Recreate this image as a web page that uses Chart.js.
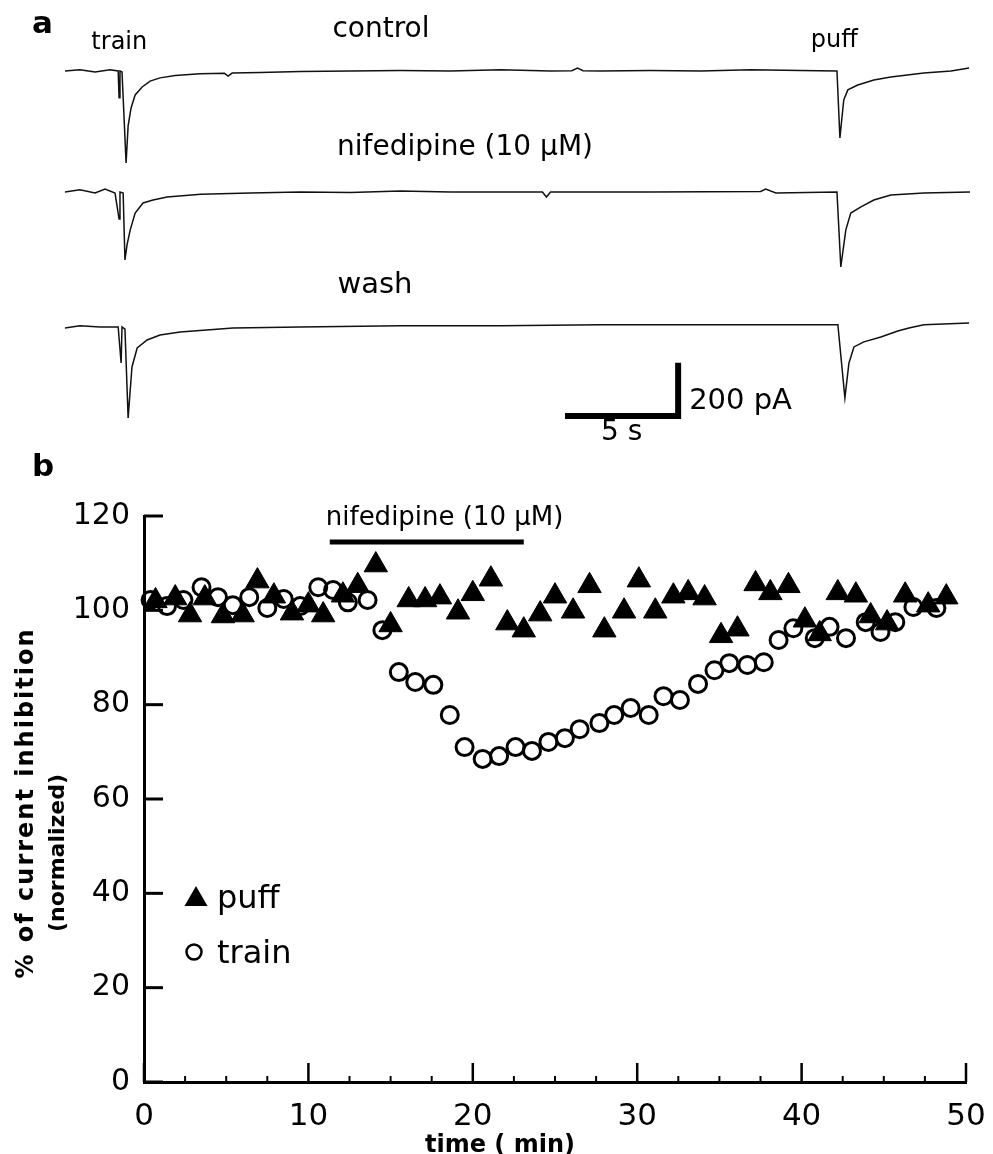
<!DOCTYPE html>
<html>
<head>
<meta charset="utf-8">
<script src="https://cdn.jsdelivr.net/npm/chart.js@4.4.1/dist/chart.umd.min.js"></script>
<style>
    html, body { margin: 0; padding: 0; background: #ffffff; }
    #wrap { position: relative; width: 993px; height: 1154px; }
    canvas { position: absolute; left: 0; }
    #tracesChart { top: 0; }
    #timeChart { top: 480px; }
</style>
</head>
<body>
<div id="wrap">
    <canvas id="tracesChart" width="993" height="480"></canvas>
    <canvas id="timeChart" width="993" height="674"></canvas>
</div>
<script>
// ---- panel a: current traces (time in s, current in pA relative to baseline) ----
const controlTime = [0, 0.66, 1.33, 1.99, 2.35, 2.39, 2.43, 2.52, 2.70, 2.79, 2.92, 3.10, 3.41, 3.76, 4.20, 4.87, 5.97, 7.05, 7.21, 7.39, 8.63, 10.40, 12.61, 14.82, 17.04, 19.25, 21.46, 22.40, 22.65, 22.90, 23.67, 25.88, 28.10, 30.31, 32.52, 34.12, 34.25, 34.42, 34.60, 35.04, 35.75, 36.50, 37.96, 39.16, 39.96];
const controlCurrent = [0, 4, -4, 4, 0, -101, 0, -4, -345, -206, -139, -90, -60, -38, -26, -17, -11, -9, -19, -8, -6, -2, 0, 2, 0, 4, 0, 1, 11, 1, 0, 2, 0, 4, 2, 0, -251, -109, -71, -53, -34, -23, -8, 0, 11];

const nifeTime = [0, 0.66, 1.33, 1.77, 2.21, 2.39, 2.43, 2.57, 2.65, 2.74, 2.88, 3.10, 3.45, 3.89, 4.51, 6.00, 8.19, 10.40, 12.61, 14.82, 17.04, 21.10, 21.28, 21.46, 23.67, 25.88, 30.75, 30.97, 31.42, 34.12, 34.29, 34.51, 34.73, 35.18, 35.75, 36.50, 37.96, 40.0];
const nifeCurrent = [0, 8, -4, 11, -4, -101, 0, -4, -255, -199, -143, -79, -41, -30, -19, -8, -4, 0, -2, 4, 0, 0, -19, 0, 0, 0, 2, 11, -4, 0, -281, -143, -79, -56, -30, -11, -4, 0];

const washTime = [0, 0.66, 1.55, 2.35, 2.48, 2.52, 2.65, 2.79, 2.96, 3.19, 3.63, 4.20, 5.09, 7.43, 10.40, 14.82, 19.25, 23.67, 28.10, 31.64, 34.16, 34.47, 34.65, 34.87, 35.31, 36.06, 36.81, 37.30, 37.96, 39.96];
const washCurrent = [-4, 4, 0, 0, -135, 0, -8, -341, -150, -79, -49, -30, -19, -4, 0, 4, 4, 8, 8, 8, 8, -266, -135, -75, -56, -38, -15, -4, 8, 15];

// scale bar: 5 s, 200 pA
const scaleBarTime = [22.1, 27.1];
const scaleBarCurrent = 200;

// ---- panel b: % of current inhibition vs time (min) ----
const puffTime = [0.7, 1.9, 2.8, 3.7, 4.8, 6.0, 6.9, 7.9, 9.0, 10.0, 10.9, 12.1, 13.0, 14.1, 15.0, 16.1, 17.1, 18.0, 19.1, 20.0, 21.1, 22.1, 23.1, 24.1, 25.0, 26.1, 27.1, 28.0, 29.2, 30.1, 31.1, 32.2, 33.1, 34.1, 35.1, 36.1, 37.2, 38.1, 39.2, 40.2, 41.1, 42.2, 43.3, 44.2, 45.2, 46.3, 47.7, 48.8];
const puffValue = [102.0, 102.6, 99.0, 102.6, 98.8, 99.0, 106.2, 103.0, 99.4, 101.1, 99.0, 103.2, 105.2, 109.6, 96.9, 102.2, 102.2, 102.8, 99.6, 103.5, 106.6, 97.3, 95.8, 99.2, 103.0, 99.8, 105.2, 95.8, 99.8, 106.4, 99.8, 103.0, 103.7, 102.6, 94.6, 96.0, 105.6, 103.7, 105.2, 97.9, 95.0, 103.7, 103.2, 98.8, 97.3, 103.2, 101.1, 102.8];

const trainTime = [0.4, 1.4, 2.4, 3.5, 4.5, 5.4, 6.4, 7.5, 8.5, 9.5, 10.6, 11.5, 12.4, 13.6, 14.5, 15.5, 16.5, 17.6, 18.6, 19.5, 20.6, 21.6, 22.6, 23.6, 24.6, 25.6, 26.5, 27.7, 28.6, 29.6, 30.7, 31.6, 32.6, 33.7, 34.7, 35.6, 36.7, 37.7, 38.6, 39.5, 40.8, 41.7, 42.7, 43.9, 44.8, 45.7, 46.8, 48.2];
const trainValue = [102.2, 100.9, 102.2, 104.9, 102.8, 101.1, 102.8, 100.5, 102.4, 100.9, 104.9, 104.3, 101.7, 102.2, 95.8, 86.9, 84.8, 84.2, 77.8, 71.0, 68.5, 69.1, 71.0, 70.2, 72.1, 72.9, 74.8, 76.1, 77.8, 79.3, 77.8, 81.8, 81.0, 84.4, 87.3, 88.8, 88.4, 89.0, 93.7, 96.2, 94.1, 96.5, 94.1, 97.5, 95.4, 97.5, 100.7, 100.5];

// nifedipine application period (min)
const nifeStart = 11.3;
const nifeEnd = 23.1;

const yTicks = [0, 20, 40, 60, 80, 100, 120];
const xTicks = [0, 10, 20, 30, 40, 50];
const xMinorStep = 2.5;

// layout constants
const traceOffsets = [-116, -570, -1076];   // vertical placement of the three sweeps (pA)
const scaleBarLevel = -1410;
const nifeBarLevel = 114.5;
const PANEL_B_TOP = 480;

Chart.defaults.font.family = '"DejaVu Sans", sans-serif';
Chart.defaults.color = '#000';

function toPoints(xs, ys, offset) {
    return xs.map((v, i) => ({ x: v, y: ys[i] + (offset || 0) }));
}

function traceDataset(xs, ys, offset) {
    return {
        data: toPoints(xs, ys, offset),
        showLine: true,
        borderColor: '#111',
        borderWidth: 1.5,
        pointRadius: 0,
        tension: 0
    };
}

// text labels for panel a
const tracesAnnotations = {
    id: 'tracesAnnotations',
    afterDraw(chart) {
        const ctx = chart.ctx;
        const x = chart.scales.x;
        ctx.save();
        ctx.fillStyle = '#000';
        ctx.textBaseline = 'alphabetic';
        ctx.font = 'bold 31px "DejaVu Sans"';
        ctx.textAlign = 'left';
        ctx.fillText('a', 32, 33);
        ctx.fillText('b', 32, 476);

        ctx.textAlign = 'center';
        ctx.font = '24px "DejaVu Sans"';
        ctx.fillText('train', x.getPixelForValue(2.4), 49);
        ctx.fillText('puff', x.getPixelForValue(34.0), 47);

        ctx.font = '28px "DejaVu Sans"';
        ctx.fillText('control', 381, 37);
        ctx.fillText('nifedipine (10 μM)', 465, 155);
        ctx.font = '29px "DejaVu Sans"';
        ctx.fillText('wash', 375, 293);

        // scale bar labels
        ctx.textAlign = 'left';
        ctx.fillText('200 pA', x.getPixelForValue(scaleBarTime[1]) + 11, 409);
        ctx.textAlign = 'center';
        ctx.font = '28px "DejaVu Sans"';
        ctx.fillText('5 s', x.getPixelForValue((scaleBarTime[0] + scaleBarTime[1]) / 2), 440);
        ctx.restore();
    }
};

new Chart(document.getElementById('tracesChart').getContext('2d'), {
    type: 'scatter',
    data: {
        datasets: [
            traceDataset(controlTime, controlCurrent, traceOffsets[0]),
            traceDataset(nifeTime, nifeCurrent, traceOffsets[1]),
            traceDataset(washTime, washCurrent, traceOffsets[2]),
            {
                data: [
                    { x: scaleBarTime[0], y: scaleBarLevel },
                    { x: scaleBarTime[1], y: scaleBarLevel },
                    { x: scaleBarTime[1], y: scaleBarLevel + scaleBarCurrent }
                ],
                showLine: true,
                borderColor: '#000',
                borderWidth: 6,
                borderJoinStyle: 'miter',
                pointRadius: 0
            }
        ]
    },
    options: {
        responsive: false,
        animation: false,
        events: [],
        layout: { padding: { left: 65, right: 23, top: 40, bottom: 40 } },
        scales: {
            x: { type: 'linear', display: false, min: 0, max: 40 },
            y: { type: 'linear', display: false, min: -1500, max: 0 }
        },
        plugins: { legend: { display: false }, tooltip: { enabled: false } }
    },
    plugins: [tracesAnnotations]
});

// ticks, legend, titles for panel b
const timeAnnotations = {
    id: 'timeAnnotations',
    afterDraw(chart) {
        const { ctx, chartArea } = chart;
        const x = chart.scales.x, y = chart.scales.y;
        const pb = v => v - PANEL_B_TOP;
        ctx.save();
        ctx.strokeStyle = '#000';
        ctx.fillStyle = '#000';
        ctx.lineCap = 'butt';

        // inward ticks
        ctx.lineWidth = 3;
        yTicks.forEach(v => {
            const py = y.getPixelForValue(v);
            ctx.beginPath();
            ctx.moveTo(chartArea.left, py);
            ctx.lineTo(chartArea.left + 19, py);
            ctx.stroke();
        });
        ctx.lineWidth = 2.5;
        xTicks.forEach(v => {
            const px = x.getPixelForValue(v);
            ctx.beginPath();
            ctx.moveTo(px, chartArea.bottom);
            ctx.lineTo(px, chartArea.bottom - 19);
            ctx.stroke();
        });
        ctx.lineWidth = 2;
        for (let m = xMinorStep; m < xTicks[xTicks.length - 1]; m += xMinorStep) {
            if (xTicks.includes(m)) continue;
            const px = x.getPixelForValue(m);
            ctx.beginPath();
            ctx.moveTo(px, chartArea.bottom);
            ctx.lineTo(px, chartArea.bottom - 6);
            ctx.stroke();
        }

        // drug label above the bar
        const barY = y.getPixelForValue(nifeBarLevel);
        ctx.font = '26px "DejaVu Sans"';
        ctx.textAlign = 'left';
        ctx.textBaseline = 'alphabetic';
        ctx.fillText('nifedipine (10 μM)', x.getPixelForValue(nifeStart) - 4, barY - 17);

        // legend
        ctx.beginPath();
        ctx.moveTo(196, pb(886));
        ctx.lineTo(207.5, pb(906));
        ctx.lineTo(184.5, pb(906));
        ctx.closePath();
        ctx.fill();
        ctx.lineWidth = 2.5;
        ctx.beginPath();
        ctx.arc(194, pb(952), 7.5, 0, Math.PI * 2);
        ctx.stroke();
        ctx.font = '32px "DejaVu Sans"';
        ctx.fillText('puff', 217, pb(908));
        ctx.fillText('train', 217, pb(963));

        // x axis title
        ctx.font = 'bold 24px "DejaVu Sans"';
        ctx.textAlign = 'center';
        ctx.fillText('time ( min)', 500, pb(1152));

        // y axis title (two lines, rotated)
        ctx.save();
        ctx.translate(33, pb(803));
        ctx.rotate(-Math.PI / 2);
        ctx.font = 'bold 24px "DejaVu Sans"';
        if ('letterSpacing' in ctx) ctx.letterSpacing = '2px';
        ctx.fillText('% of current inhibition', 0, 0);
        ctx.restore();
        ctx.save();
        ctx.translate(64, pb(853));
        ctx.rotate(-Math.PI / 2);
        ctx.font = 'bold 22px "DejaVu Sans"';
        ctx.fillText('(normalized)', 0, 0);
        ctx.restore();

        ctx.restore();
    }
};

new Chart(document.getElementById('timeChart').getContext('2d'), {
    type: 'scatter',
    data: {
        datasets: [
            {
                label: 'puff',
                data: toPoints(puffTime, puffValue),
                pointStyle: 'triangle',
                pointRadius: 13.5,
                backgroundColor: '#000',
                borderColor: '#000',
                borderWidth: 1,
                order: 0
            },
            {
                label: 'train',
                data: toPoints(trainTime, trainValue),
                pointStyle: 'circle',
                pointRadius: 8.5,
                backgroundColor: 'rgba(0,0,0,0)',
                borderColor: '#000',
                borderWidth: 3,
                order: 1
            },
            {
                label: 'nifedipine',
                data: [{ x: nifeStart, y: nifeBarLevel }, { x: nifeEnd, y: nifeBarLevel }],
                showLine: true,
                borderColor: '#000',
                borderWidth: 5,
                pointRadius: 0,
                order: 2
            }
        ]
    },
    options: {
        responsive: false,
        animation: false,
        events: [],
        clip: false,
        layout: { padding: { left: 0, right: 27, top: 36, bottom: 0 } },
        scales: {
            x: {
                type: 'linear',
                min: 0,
                max: 50,
                afterBuildTicks: scale => { scale.ticks = xTicks.map(v => ({ value: v })); },
                afterFit: scale => {
                    scale.height = 72;
                    scale.paddingLeft = 0;
                    scale.paddingRight = 0;
                },
                grid: { display: false, drawTicks: false },
                border: { display: true, color: '#000', width: 3 },
                ticks: { padding: 16, maxRotation: 0, font: { size: 31 }, color: '#000' }
            },
            y: {
                type: 'linear',
                min: 0,
                max: 120,
                afterBuildTicks: scale => { scale.ticks = yTicks.map(v => ({ value: v })); },
                afterFit: scale => {
                    scale.width = 144;
                    scale.paddingTop = 0;
                    scale.paddingBottom = 0;
                },
                grid: { display: false, drawTicks: false },
                border: { display: true, color: '#000', width: 3 },
                ticks: { padding: 14, font: { size: 30 }, color: '#000' }
            }
        },
        plugins: { legend: { display: false }, tooltip: { enabled: false } }
    },
    plugins: [timeAnnotations]
});
</script>
</body>
</html>
